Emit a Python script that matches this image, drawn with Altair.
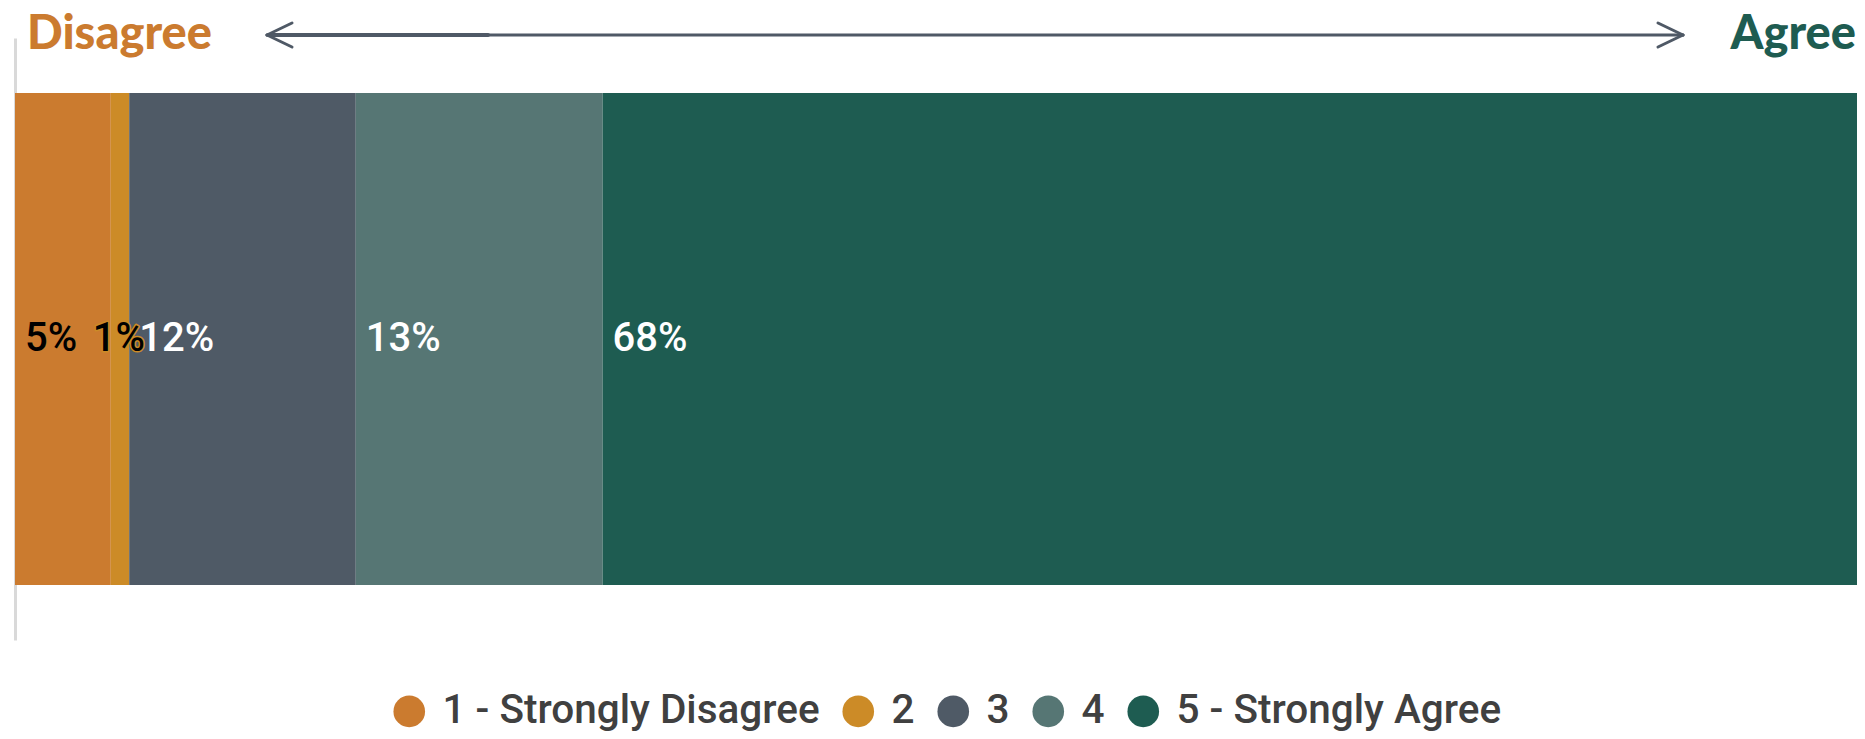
import altair as alt
import pandas as pd

# ---- data ----
categories = ["1 - Strongly Disagree", "2", "3", "4", "5 - Strongly Agree"]
shares = [5.2, 1.0, 12.3, 13.4, 68.1]
labels = ["5%", "1%", "12%", "13%", "68%"]

# ---- styles ----
palette = ["#CB7B2F", "#CC8B27", "#4F5A66", "#567674", "#1E5C51"]
label_colors = ["#000000", "#000000", "#FFFFFF", "#FFFFFF", "#FFFFFF"]
ARROW = "#4F5966"
FONT = "Roboto"
W, H = 1842, 602

df = pd.DataFrame({
    "question": "Q",
    "response": categories,
    "share": shares,
    "label": labels,
    "order": list(range(len(categories))),
    "label_color": label_colors,
})

x_scale = alt.Scale(domain=[0, 100], nice=False, zero=True)
y_scale = alt.Scale(paddingInner=0, paddingOuter=0.112)
color_scale = alt.Scale(domain=categories, range=palette)

base = alt.Chart(df).transform_window(
    cum="sum(share)", sort=[alt.SortField("order")], frame=[None, 0]
).transform_calculate(start="datum.cum - datum.share")

bars = base.mark_bar(strokeWidth=0).encode(
    x=alt.X("start:Q", scale=x_scale, axis=None),
    x2="cum:Q",
    y=alt.Y("question:N", scale=y_scale,
            axis=alt.Axis(labels=False, ticks=False, title=None, grid=False,
                          domain=True, domainColor="#D9D9D9", domainWidth=3)),
    color=alt.Color("response:N", scale=color_scale, sort=categories,
                    legend=alt.Legend(title=None, orient="none", legendX=374, legendY=653,
                                      direction="horizontal",
                                      symbolType="circle", symbolSize=1000,
                                      symbolStrokeWidth=0, labelFont=FONT,
                                      labelFontSize=40.5, labelFontWeight=500,
                                      labelColor="#404040",
                                      labelOffset=13, columnPadding=18,
                                      padding=0, labelLimit=800)),
)


def label_layers(filter_expr, dx):
    sub = base.transform_filter(filter_expr)
    halo = sub.mark_text(align="left", baseline="middle", font=FONT, fontSize=40,
                         fontWeight=500, dx=dx, strokeWidth=3, strokeJoin="round").encode(
        x="start:Q", y="question:N", text="label:N",
        stroke=alt.Stroke("response:N", scale=color_scale, legend=None),
        fill=alt.Fill("label_color:N", scale=None),
    )
    txt = sub.mark_text(align="left", baseline="middle", font=FONT, fontSize=40,
                        fontWeight=500, dx=dx).encode(
        x="start:Q", y="question:N", text="label:N",
        fill=alt.Fill("label_color:N", scale=None),
    )
    return [halo, txt]


blank = alt.Data(values=[{}])


def seg(x1, y1, x2, y2, w=3):
    return alt.Chart(blank).mark_rule(color=ARROW, strokeWidth=w, strokeCap="round").encode(
        x=alt.value(x1), x2=alt.value(x2), y=alt.value(y1), y2=alt.value(y2))


arrow = [
    seg(252, -3, 1668, -3, 3),
    seg(254, -3, 473, -3, 4),
    seg(252, -3, 277, -15),
    seg(252, -3, 277, 9),
    seg(1668, -3, 1643, -15),
    seg(1668, -3, 1643, 9),
]

disagree = alt.Chart(blank).mark_text(
    text="Disagree", font="Lato", fontWeight=900, fontSize=47, color="#CB7B2F",
    align="left", baseline="alphabetic", dx=12).encode(x=alt.datum(0), y=alt.value(11))
agree = alt.Chart(blank).mark_text(
    text="Agree", font="Lato", fontWeight=900, fontSize=47, color="#1E5C51",
    align="right", baseline="alphabetic").encode(x=alt.value(W - 1), y=alt.value(11))

layers = [bars] + label_layers("datum.share >= 2", 10) + label_layers("datum.share < 2", -18) \
    + arrow + [disagree, agree]

chart = alt.layer(*layers).properties(
    width=W, height=H,
    padding={"left": 7, "top": 30, "right": 0, "bottom": 91},
    autosize=alt.AutoSizeParams(type="none"),
).configure_view(stroke=None)

chart.save("out.html", embed_options={"renderer": "svg", "actions": False})
